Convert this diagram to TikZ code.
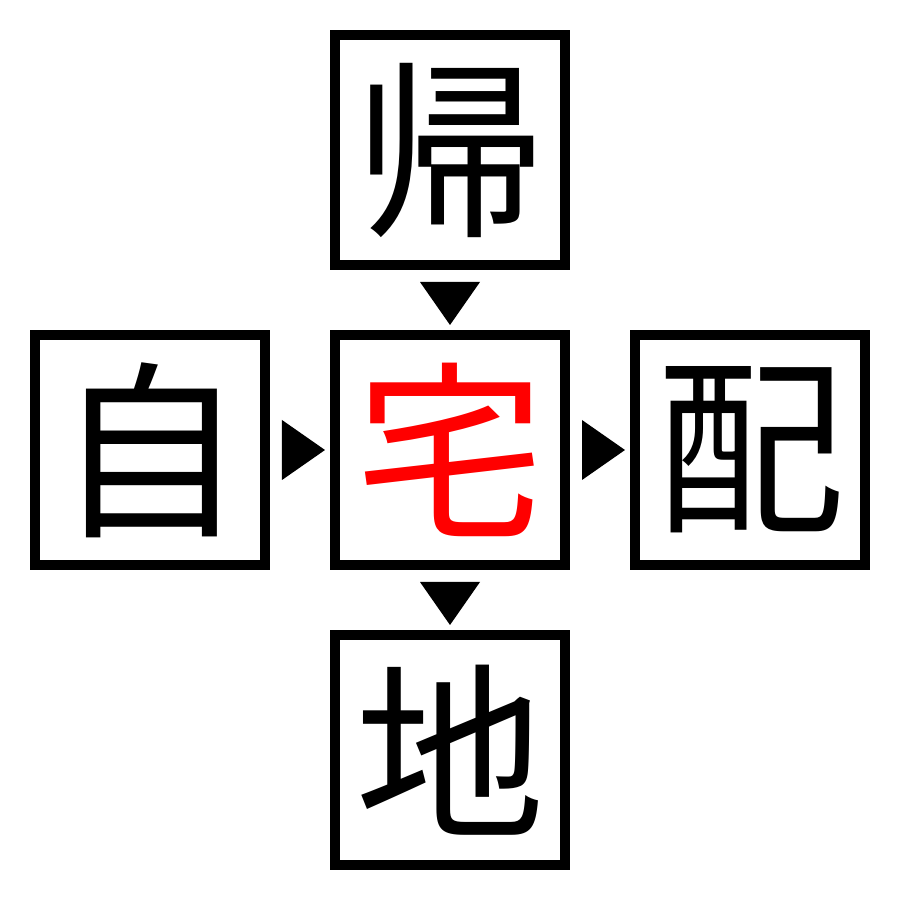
\documentclass[tikz,border=0pt]{standalone}
\usepackage{fontspec}
\usepackage{xcolor}
\usepackage{tikz}
\usetikzlibrary{calc,positioning}
\newfontfamily\jpfont{Noto Sans CJK JP}
\definecolor{ink}{HTML}{000000}
\definecolor{hot}{HTML}{FF0000}
\tikzset{
  cell/.style={draw=ink, line width=0.1cm, minimum size=2.3cm, inner sep=0pt,
    font=\jpfont\fontsize{54}{60}\selectfont, text=ink},
  key/.style={cell, text=hot},
  tri/.style={fill=ink, draw=none},
}

\begin{document}
\begin{tikzpicture}[node distance=0.6cm]
  \useasboundingbox (0,0) rectangle (9,9);
  \node[key] (ctr) at (4.5,4.5) {宅};
  \node[cell,above=of ctr] (up) {帰};
  \node[cell,below=of ctr] (dn) {地};
  \node[cell,left=of ctr] (lf) {自};
  \node[cell,right=of ctr] (rt) {配};
  % markers between the cells
  \fill[tri] ($(up.south)+(-0.3,-0.12)$) -- ++(0.6,0) -- ++(-0.3,-0.43) -- cycle;
  \fill[tri] ($(ctr.south)+(-0.3,-0.12)$) -- ++(0.6,0) -- ++(-0.3,-0.43) -- cycle;
  \fill[tri] ($(lf.east)+(0.12,0.3)$) -- ++(0,-0.6) -- ++(0.43,0.3) -- cycle;
  \fill[tri] ($(ctr.east)+(0.12,0.3)$) -- ++(0,-0.6) -- ++(0.43,0.3) -- cycle;
\end{tikzpicture}
\end{document}
